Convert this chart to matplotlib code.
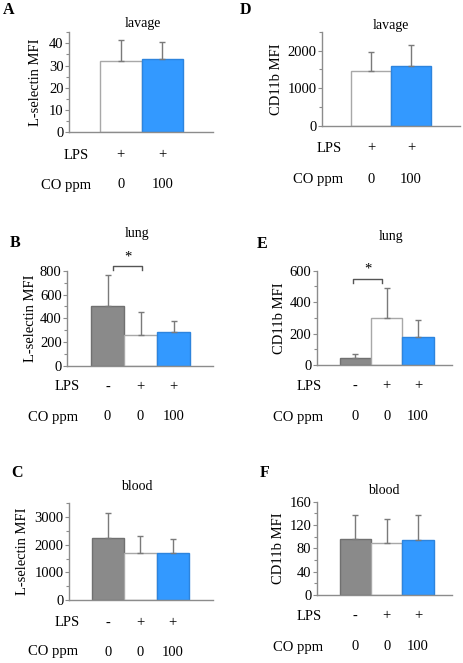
import numpy as np
import matplotlib
matplotlib.use("Agg")
import matplotlib.pyplot as plt
from matplotlib.ticker import MultipleLocator
import matplotlib.transforms as mtransforms

plt.rcParams['font.family'] = ['Liberation Serif', 'DejaVu Serif']

W, H = 463, 663

# ---------------- data ----------------
titles = ["lavage", "lung", "blood"]
letters_left = ["A", "B", "C"]
letters_right = ["D", "E", "F"]
ylabel_left = "L-selectin MFI"
ylabel_right = "CD11b MFI"

lps_2 = ["+", "+"]
co_2 = ["0", "100"]
lps_3 = ["-", "+", "+"]
co_3 = ["0", "0", "100"]

A_mean = [32, 33]
A_err = [9.3, 7.4]
D_mean = [1460, 1580]
D_err = [500, 570]
B_mean = [505, 258, 285]
B_err = [256, 193, 95]
E_mean = [45, 297, 180]
E_err = [23, 195, 104]
C_mean = [2250, 1700, 1700]
C_err = [910, 607, 512]
F_mean = [96, 88.7, 93.8]
F_err = [42, 41, 43]

col_gray = "#8a8a8a"
col_white = "#ffffff"
col_blue = "#3399ff"
edge_gray = "#707070"
edge_white = "#a8a8a8"
edge_blue = "#2d84dd"
axcol = "#8c8c8c"

fig = plt.figure(figsize=(W / 100, H / 100), dpi=100)


def fx(x):
    return x / W


def fy(y):
    return 1 - y / H


def make_axes(x0, x1, ytop, ybot):
    return fig.add_axes([fx(x0), fy(ybot), (x1 - x0) / W, (ybot - ytop) / H])


def panel(x0, x1, ytop, ybot, bar_left, bar_w, ymax, major, minor,
          means, errs, colors, edges, lps, co, title, title_xy, letter,
          letter_xy, ylabel, lps_xy, co_xy, row_y, lpad):
    ax = make_axes(x0, x1, ytop, ybot)
    n = len(means)
    xs = np.arange(n)
    ax.bar(xs, means, width=1.0, color=colors, edgecolor=edges, linewidth=1.0,
           zorder=2)
    ax.errorbar(xs, means, yerr=[np.zeros(n), errs], fmt="none",
                ecolor="#7a7a7a", elinewidth=1.0, capsize=2.5, capthick=1.0,
                zorder=3, clip_on=False)
    left = -0.5 - (bar_left - x0) / bar_w
    right = -0.5 + (x1 - bar_left) / bar_w
    ax.set_xlim(left, right)
    ax.set_ylim(0, ymax)
    ax.yaxis.set_major_locator(MultipleLocator(major))
    ax.yaxis.set_minor_locator(MultipleLocator(minor))
    for s in ["top", "right"]:
        ax.spines[s].set_visible(False)
    for s in ["left", "bottom"]:
        ax.spines[s].set_color(axcol)
        ax.spines[s].set_linewidth(1.0)
    ax.set_xticks([])
    ax.tick_params(axis="y", which="major", length=3, width=0.8, color=axcol,
                   labelsize=10.5, pad=1)
    ax.tick_params(axis="y", which="minor", length=2, width=0.8, color=axcol)
    ax.set_ylabel(ylabel, fontsize=10.5, labelpad=lpad)
    fig.text(fx(title_xy[0]), fy(title_xy[1]), title, ha="center",
             va="center", fontsize=10)
    fig.text(fx(letter_xy[0]), fy(letter_xy[1]), letter, ha="left",
             va="center", fontsize=11.5, fontweight="bold")
    fig.text(fx(lps_xy[0]), fy(lps_xy[1]), "LPS", ha="center", va="center",
             fontsize=10.5)
    fig.text(fx(co_xy[0]), fy(co_xy[1]), "CO ppm", ha="center", va="center",
             fontsize=10.5)
    trans = mtransforms.blended_transform_factory(ax.transData,
                                                  fig.transFigure)
    for i in range(n):
        ax.text(xs[i], fy(row_y[0]), lps[i], transform=trans, ha="center",
                va="center", fontsize=10.5)
        ax.text(xs[i], fy(row_y[1]), co[i], transform=trans, ha="center",
                va="center", fontsize=10.5)
    return ax


def bracket(ax, xa, xb, y, ydrop, star_y):
    ax.plot([xa, xa, xb, xb], [ydrop, y, y, ydrop], color="#555555",
            lw=1.0, clip_on=False)
    ax.text((xa + xb) / 2, star_y, "*", ha="center", va="center",
            fontsize=10.5)


# A
panel(69, 213, 32.3, 132, 100, 41.5, 45, 10, 5, A_mean, A_err,
      [col_white, col_blue], [edge_white, edge_blue], lps_2, co_2,
      titles[0], (143, 24), letters_left[0], (3, 10), ylabel_left,
      (76, 155), (66, 185), (155, 185), 5)
# D
panel(322, 460, 31.7, 126, 351.3, 39.85, 2500, 1000, 500, D_mean, D_err,
      [col_white, col_blue], [edge_white, edge_blue], lps_2, co_2,
      titles[0], (391, 26), letters_right[0], (240, 10), ylabel_right,
      (329, 148), (318, 180), (148, 180), 3)
# B
axB = panel(67.3, 213, 270.7, 366, 91, 33, 800, 200, 100, B_mean, B_err,
            [col_gray, col_white, col_blue], [edge_gray, edge_white, edge_blue],
            lps_3, co_3, titles[1], (137, 233), letters_left[1], (10, 243),
            ylabel_left, (67, 387), (53, 417), (387, 417), 2)
bracket(axB, 0.17, 1.05, 842, 808, 912)
# E
axE = panel(317, 452, 270.7, 365, 339.7, 31.33, 600, 200, 100, E_mean, E_err,
            [col_gray, col_white, col_blue], [edge_gray, edge_white, edge_blue],
            lps_3, co_3, titles[1], (391, 236), letters_right[1], (257, 244),
            ylabel_right, (309, 386), (298, 417), (386, 417), 3)
bracket(axE, -0.075, 0.85, 545, 522, 612)
# C
panel(69, 213, 503.3, 600, 91.7, 32.43, 3500, 1000, 500, C_mean, C_err,
      [col_gray, col_white, col_blue], [edge_gray, edge_white, edge_blue],
      lps_3, co_3, titles[2], (137, 487), letters_left[2], (11, 473),
      ylabel_left, (67, 623), (53, 652), (623, 652), 4)
# F
panel(317, 452, 501.7, 595, 339.7, 31.33, 160, 40, 20, F_mean, F_err,
      [col_gray, col_white, col_blue], [edge_gray, edge_white, edge_blue],
      lps_3, co_3, titles[2], (384, 490), letters_right[2], (260, 473),
      ylabel_right, (309, 616), (298, 647), (616, 647), 3)

fig.savefig("out.png", dpi=100)
